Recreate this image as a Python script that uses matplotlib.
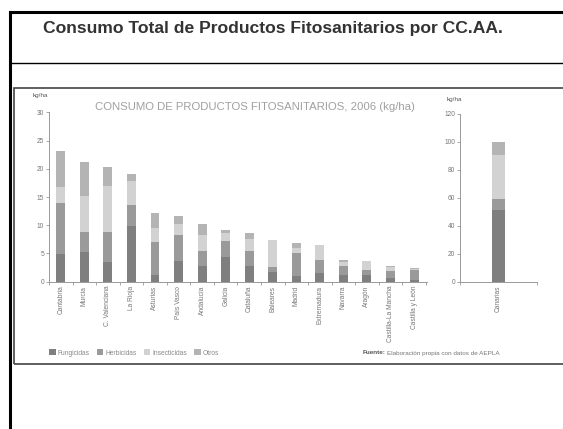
import numpy as np
import matplotlib
matplotlib.use("Agg")
import matplotlib.pyplot as plt
from matplotlib.lines import Line2D
from matplotlib.patches import Rectangle

# --- data (kg/ha, 2006) ---
regions = ["Cantabria", "Murcia", "C. Valenciana", "La Rioja", "Asturias",
           "País Vasco", "Andalucía", "Galicia", "Cataluña", "Baleares",
           "Madrid", "Extremadura", "Navarra", "Aragón",
           "Castilla-La Mancha", "Castilla y León"]
fungicidas   = [4.8, 5.3, 3.4, 9.9, 1.1, 3.7, 2.8, 4.4, 2.8, 1.6, 1.0, 1.5, 1.1, 1.1, 0.6, 0.2]
herbicidas   = [9.2, 3.5, 5.4, 3.6, 5.9, 4.6, 2.7, 2.8, 2.7, 0.9, 4.1, 2.3, 1.7, 1.0, 1.2, 1.8]
insecticidas = [2.7, 6.4, 8.2, 4.4, 2.5, 1.9, 2.8, 1.4, 2.0, 4.8, 0.8, 2.6, 0.6, 1.5, 0.7, 0.2]
otros        = [6.5, 6.0, 3.3, 1.1, 2.7, 1.4, 1.9, 0.6, 1.1, 0.1, 0.9, 0.1, 0.5, 0.0, 0.3, 0.2]

canarias_label = "Canarias"
canarias = [51.2, 8.3, 31.5, 9.0]   # fungicidas, herbicidas, insecticidas, otros

series_names = ["Fungicidas", "Herbicidas", "Insecticidas", "Otros"]
colors = ["#7f7f7f", "#9a9a9a", "#d2d2d2", "#b4b4b4"]

W, H = 563, 429
fig = plt.figure(figsize=(W / 100, H / 100), dpi=100)
fig.patch.set_facecolor("white")


def fx(x):
    return x / W


def fy(y):
    return 1 - y / H


def fline(x0, y0, x1, y1, color="black", lw=1.0):
    fig.add_artist(Line2D([fx(x0), fx(x1)], [fy(y0), fy(y1)],
                          transform=fig.transFigure, color=color, lw=lw))


# slide frame
fline(10, 12, W, 12, lw=2.2)
fline(10, 12, 10, H, lw=2.2)
fline(10, 63, W, 63, lw=1.0)
fig.text(fx(273), fy(29), "Consumo Total de Productos Fitosanitarios por CC.AA.",
         ha="center", va="center", fontsize=12.6, fontweight="bold",
         family="Liberation Sans", color="#333333")

# embedded chart box
fig.add_artist(Rectangle((fx(14), fy(364)), fx(W + 5) - fx(14), fy(88) - fy(364),
                         transform=fig.transFigure, fill=False,
                         edgecolor="#444444", lw=1.2))

fam = ["Liberation Sans", "DejaVu Sans"]
grey = "#999999"


def style(ax):
    for s in ["top", "right"]:
        ax.spines[s].set_visible(False)
    for s in ["left", "bottom"]:
        ax.spines[s].set_color(grey)
        ax.spines[s].set_linewidth(0.7)
    ax.tick_params(axis="y", length=2, width=0.6, color=grey, labelsize=4.8,
                   labelcolor="#777777", pad=1.5)
    ax.tick_params(axis="x", which="major", length=0, labelsize=4.8,
                   labelcolor="#777777", pad=3)
    ax.tick_params(axis="x", which="minor", length=2.5, width=0.6, color=grey)
    for lab in ax.get_yticklabels() + ax.get_xticklabels():
        lab.set_family(fam)


# left chart
y0, y30 = 281.5, 112.5
ax = fig.add_axes([fx(49), fy(y0), fx(427) - fx(49), fy(y30) - fy(y0)])
x = np.arange(len(regions))
bottom = np.zeros(len(regions))
handles = []
for vals, name, c in zip([fungicidas, herbicidas, insecticidas, otros], series_names, colors):
    b = ax.bar(x, vals, 0.38, bottom=bottom, color=c, label=name)
    handles.append(b)
    bottom += np.array(vals)
ax.set_xlim(-0.43, len(regions) - 0.45)
ax.set_ylim(0, 30)
ax.set_yticks(range(0, 31, 5))
ax.set_xticks(x)
ax.set_xticklabels(regions, rotation=90, va="top")
ax.set_xticks(np.arange(-0.5, len(regions)), minor=True)
style(ax)
fig.text(fx(33), fy(97), "kg/ha", fontsize=4.6, color="#555555", family=fam)
fig.text(fx(95), fy(107), "CONSUMO DE PRODUCTOS FITOSANITARIOS, 2006 (kg/ha)",
         fontsize=8.2, color="#a0a0a0", family=fam, va="center")

# right chart (Canarias)
r0, r120 = 281.7, 114
ax2 = fig.add_axes([fx(460), fy(r0), fx(537) - fx(460), fy(r120) - fy(r0)])
bot = 0
for v, c in zip(canarias, colors):
    ax2.bar([0], [v], 0.16, bottom=bot, color=c)
    bot += v
ax2.set_xlim(-0.5, 0.5)
ax2.set_ylim(0, 120)
ax2.set_yticks(range(0, 121, 20))
ax2.set_xticks([0])
ax2.set_xticklabels([canarias_label], rotation=90, va="top")
ax2.set_xticks([-0.5, 0.5], minor=True)
style(ax2)
fig.text(fx(447), fy(101), "kg/ha", fontsize=4.6, color="#555555", family=fam)

# legend + source
fig.legend(handles=handles, labels=series_names, loc="center left",
           bbox_to_anchor=(fx(43), fy(353)), ncol=4, frameon=False,
           handlelength=1.0, handleheight=1.0, handletextpad=0.3,
           columnspacing=1.05, prop={"family": fam, "size": 4.8},
           labelcolor="#888888")
t1 = fig.text(fx(363), fy(353), "Fuente:", fontsize=4.6, fontweight="bold",
              color="#555555", family=fam, va="center")
fig.canvas.draw()
ext = t1.get_window_extent()
fig.text(ext.x1 / W + fx(1.5), fy(353), "Elaboración propia con datos de AEPLA",
         fontsize=4.6, color="#777777", family=fam, va="center")

fig.savefig("out.png", dpi=100)
